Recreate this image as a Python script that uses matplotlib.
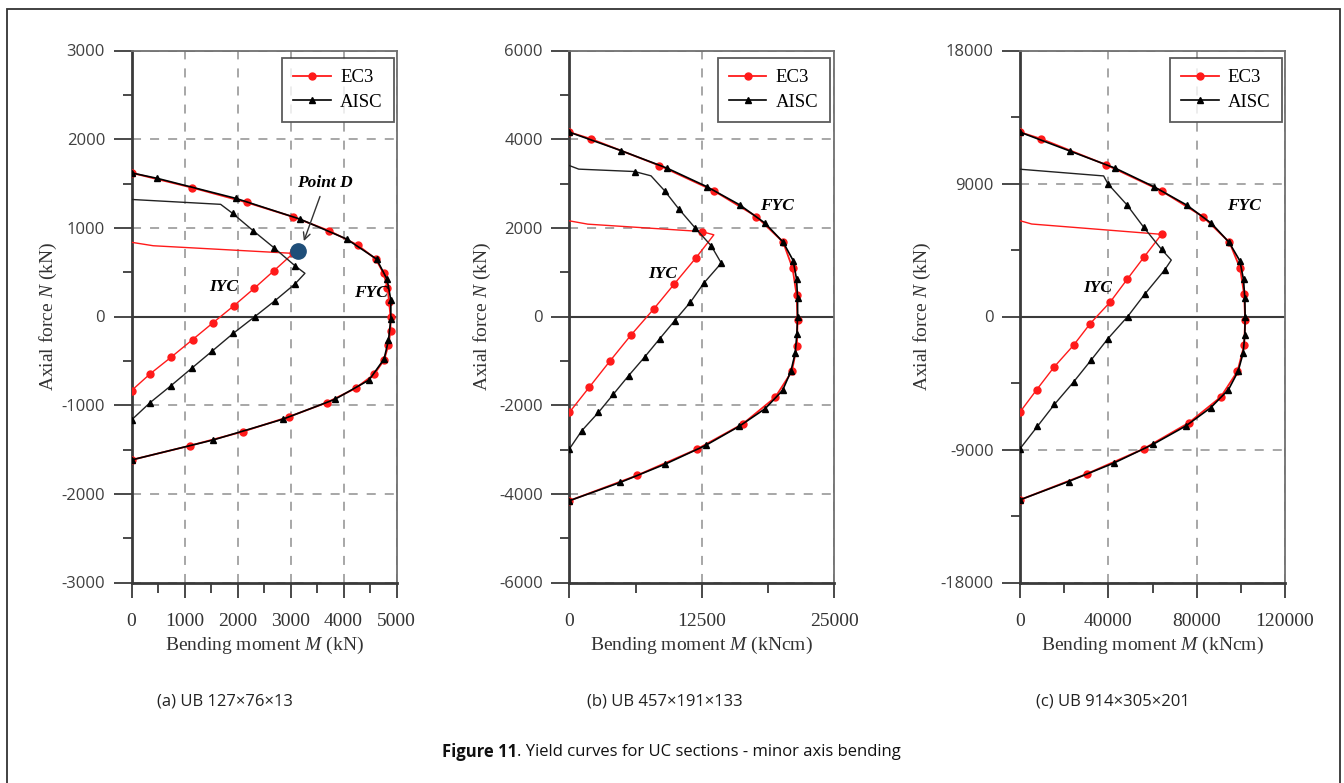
import matplotlib
matplotlib.use("Agg")
import matplotlib.pyplot as plt
from matplotlib.patches import Rectangle
from matplotlib.ticker import MultipleLocator

plt.rcParams['axes.unicode_minus'] = False
plt.rcParams['mathtext.fontset'] = 'custom'
plt.rcParams['mathtext.rm'] = 'Liberation Serif'
plt.rcParams['mathtext.it'] = 'Liberation Serif:italic'

# ---------------- Panel (a) UB 127x76x13 ----------------
a_ec3_fyc_M = [0, 1150, 2170, 3040, 3730, 4265, 4610, 4755, 4830, 4861, 4887, 4887, 4849, 4766, 4578, 4227, 3680, 2975, 2097, 1103, 0]
a_ec3_fyc_N = [1620, 1452, 1287, 1125, 967, 806, 648, 487, 325, 160, 0, -160, -321, -490, -652, -810, -972, -1130, -1299, -1457, -1618]
a_aisc_fyc_M = [0, 486, 1970, 3177, 4058, 4623, 4823, 4893, 4893, 4849, 4766, 4483, 3837, 2851, 1543, 0]
a_aisc_fyc_N = [1620, 1558, 1332, 1099, 874, 648, 419, 186, -30, -265, -479, -716, -934, -1159, -1392, -1618]
a_ec3_iyc_M = [0, 410, 3050, 2687, 2316, 1933, 1543, 1154, 745, 349, 0]
a_ec3_iyc_N = [837, 798, 712, 516, 318, 122, -68, -260, -460, -648, -836]
a_ec3_iyc_marks = [2, 3, 4, 5, 6, 7, 8, 9, 10]
a_aisc_iyc_M = [0, 1682, 1908, 2297, 2687, 3083, 3272, 3083, 2706, 2329, 1920, 1524, 1135, 745, 349, 0]
a_aisc_iyc_N = [1320, 1265, 1163, 967, 776, 573, 487, 366, 178, 0, -190, -389, -584, -780, -972, -1167]
a_aisc_iyc_marks = [2, 3, 4, 5, 7, 8, 9, 10, 11, 12, 13, 14, 15]
pointD_M, pointD_N = 3145, 742

# ---------------- Panel (b) UB 457x191x133 ----------------
b_ec3_fyc_M = [0, 2026, 8495, 13637, 17652, 20171, 21060, 21440, 21535, 21470, 20995, 19414, 16383, 12065, 6383, 0]
b_ec3_fyc_N = [4158, 4007, 3405, 2835, 2255, 1678, 1091, 489, -90, -676, -1240, -1827, -2420, -2990, -3585, -4156]
b_aisc_fyc_M = [0, 4868, 9224, 12946, 16070, 18466, 20171, 21118, 21440, 21535, 21535, 21470, 21310, 20900, 20114, 18466, 16003, 12850, 9063, 4801, 0]
b_aisc_fyc_N = [4158, 3743, 3346, 2932, 2519, 2105, 1678, 1263, 843, 415, 0, -397, -826, -1240, -1669, -2081, -2480, -2909, -3328, -3743, -4156]
b_ec3_iyc_M = [0, 1742, 12472, 13637, 11970, 9915, 7955, 5815, 3854, 1894, 0]
b_ec3_iyc_N = [2158, 2083, 1917, 1842, 1330, 737, 167, -420, -999, -1592, -2165]
b_ec3_iyc_marks = [2, 4, 5, 6, 7, 8, 9, 10]
b_aisc_iyc_M = [0, 890, 6155, 7708, 8996, 10322, 11837, 13390, 14337, 12690, 11430, 9943, 8523, 7103, 5587, 4167, 2746, 1174, 0]
b_aisc_iyc_N = [3405, 3324, 3270, 3173, 2835, 2429, 2007, 1594, 1204, 753, 325, -94, -503, -916, -1337, -1750, -2165, -2577, -2990]
b_aisc_iyc_marks = [2, 4, 5, 6, 7, 8, 9, 10, 11, 12, 13, 14, 15, 16, 17, 18]

# ---------------- Panel (c) UB 914x305x201 ----------------
c_ec3_fyc_M = [0, 9545, 39090, 64090, 82860, 94860, 99680, 101500, 101950, 101500, 98480, 90900, 76500, 56040, 30300, 0]
c_ec3_fyc_N = [12475, 12021, 10258, 8496, 6753, 5017, 3254, 1490, -230, -1946, -3709, -5450, -7190, -8950, -10645, -12407]
c_aisc_fyc_M = [0, 22420, 43180, 60590, 75450, 86670, 94690, 99550, 101210, 101800, 101950, 101800, 101050, 98770, 94400, 86360, 75000, 60130, 42730, 21970, 0]
c_aisc_fyc_N = [12475, 11207, 10034, 8787, 7546, 6305, 5017, 3770, 2508, 1240, 0, -1220, -2468, -3709, -4950, -6170, -7417, -8658, -9900, -11167, -12407]
c_ec3_iyc_M = [0, 5300, 64090, 56040, 48480, 40900, 31820, 24240, 15450, 7570, 0]
c_ec3_iyc_N = [6482, 6258, 5560, 4000, 2508, 990, -475, -1946, -3417, -4950, -6468]
c_ec3_iyc_marks = [2, 3, 4, 5, 6, 7, 8, 9, 10]
c_aisc_iyc_M = [0, 37880, 39850, 48480, 56040, 64090, 68500, 65450, 56500, 48770, 39850, 32130, 24240, 15600, 7870, 0]
c_aisc_iyc_N = [9966, 9512, 8970, 7546, 6034, 4542, 3817, 3139, 1512, 0, -1492, -2963, -4434, -5946, -7438, -8950]
c_aisc_iyc_marks = [2, 3, 4, 5, 7, 8, 9, 10, 11, 12, 13, 14, 15]

captions = ["(a) UB 127\u00d776\u00d713", "(b) UB 457\u00d7191\u00d7133", "(c) UB 914\u00d7305\u00d7201"]
x_units = ["kN", "kNcm", "kNcm"]
x_limits = [5000, 25000, 120000]
y_limits = [3000, 6000, 18000]
x_major = [1000, 12500, 40000]
y_major = [1000, 2000, 9000]
legend_labels = ["EC3", "AISC"]

RED = '#ff1a1a'
DARK = '#3a3a3a'
SERIF = 'Liberation Serif'
SANS = 'Open Sans'

fig = plt.figure(figsize=(13.44, 7.83), dpi=100)

# outer frame
fig.patches.append(Rectangle((7 / 1344, -0.05), (1340 - 7) / 1344, 1 - 9 / 783 + 0.05,
                             transform=fig.transFigure, fill=False, edgecolor='#333333', lw=1.3))

panel_lefts = [131.5, 569.3, 1020.0]
panel_w = 265.0
top_px, bot_px = 50.5, 582.5

panels = [
    (a_ec3_fyc_M, a_ec3_fyc_N, a_aisc_fyc_M, a_aisc_fyc_N, a_ec3_iyc_M, a_ec3_iyc_N, a_ec3_iyc_marks,
     a_aisc_iyc_M, a_aisc_iyc_N, a_aisc_iyc_marks),
    (b_ec3_fyc_M, b_ec3_fyc_N, b_aisc_fyc_M, b_aisc_fyc_N, b_ec3_iyc_M, b_ec3_iyc_N, b_ec3_iyc_marks,
     b_aisc_iyc_M, b_aisc_iyc_N, b_aisc_iyc_marks),
    (c_ec3_fyc_M, c_ec3_fyc_N, c_aisc_fyc_M, c_aisc_fyc_N, c_ec3_iyc_M, c_ec3_iyc_N, c_ec3_iyc_marks,
     c_aisc_iyc_M, c_aisc_iyc_N, c_aisc_iyc_marks),
]

iyc_pos = [(1744, 332), (8778, 963), (35000, 1919)]
fyc_pos = [(4515, 265), (19575, 2496), (101350, 7478)]
ylabel_x = [-0.315, -0.327, -0.367]
legend_right = [0.99, 0.982, 0.988]
caption_x = [225, 665, 1113]

for i, p in enumerate(panels):
    (ef_M, ef_N, af_M, af_N, ei_M, ei_N, ei_mk, ai_M, ai_N, ai_mk) = p
    ax = fig.add_axes([panel_lefts[i] / 1344, 1 - bot_px / 783, panel_w / 1344, (bot_px - top_px) / 783])
    xmax, ymax = x_limits[i], y_limits[i]
    ax.set_xlim(0, xmax)
    ax.set_ylim(-ymax, ymax)

    ax.xaxis.set_major_locator(MultipleLocator(x_major[i]))
    ax.xaxis.set_minor_locator(MultipleLocator(x_major[i] / 2))
    ax.yaxis.set_major_locator(MultipleLocator(y_major[i]))
    ax.yaxis.set_minor_locator(MultipleLocator(y_major[i] / 2))

    ax.grid(True, which='major', color='#a0a0a0', lw=1.3, dashes=(5, 5))
    ax.set_axisbelow(True)
    ax.axhline(0, color=DARK, lw=1.5, zorder=1.5)

    for s in ['left', 'bottom']:
        ax.spines[s].set_linewidth(2.0)
        ax.spines[s].set_color(DARK)
    for s in ['top', 'right']:
        ax.spines[s].set_linewidth(1.3)
        ax.spines[s].set_color('#707070')

    ax.tick_params(axis='y', which='major', direction='out', length=13, width=1.3, color=DARK, pad=6,
                   labelsize=12, labelcolor='#404040')
    ax.tick_params(axis='y', which='minor', direction='out', length=6.5, width=1.3, color=DARK)
    ax.tick_params(axis='x', which='major', direction='out', length=11, width=1.3, color=DARK, pad=11,
                   labelsize=14, labelcolor='#333333')
    ax.tick_params(axis='x', which='minor', direction='out', length=7, width=1.3, color=DARK)
    for lab in ax.get_yticklabels():
        lab.set_fontfamily(SANS)
    for lab in ax.get_xticklabels():
        lab.set_fontfamily(SERIF)

    ax.set_xlabel(r'Bending moment $\mathit{M}$ (' + x_units[i] + ')', fontsize=14, family=SERIF, color='#333333')
    ax.set_ylabel(r'Axial force $\mathit{N}$ (kN)', fontsize=14, family=SERIF, color='#333333')
    ax.xaxis.set_label_coords(0.5, -0.119)
    ax.xaxis.label.set_verticalalignment('center')
    ax.yaxis.set_label_coords(ylabel_x[i], 0.5)
    ax.yaxis.label.set_verticalalignment('center')

    # full yield curves
    ax.plot(ef_M, ef_N, color=RED, lw=1.3, marker='o', ms=5, mec=RED, mfc=RED, zorder=3, label=legend_labels[0])
    ax.plot(af_M, af_N, color='black', lw=1.2, marker='^', ms=4.5, zorder=4, label=legend_labels[1])
    # initial yield curves
    ax.plot(ei_M, ei_N, color=RED, lw=1.0, marker='o', ms=5, markevery=ei_mk, zorder=3)
    ax.plot(ai_M, ai_N, color='#222222', lw=1.0, marker='^', ms=4.5, mfc='black', mec='black',
            markevery=ai_mk, zorder=3)

    ax.text(iyc_pos[i][0], iyc_pos[i][1], 'IYC', family=SERIF, fontsize=12.5, fontweight='bold',
            fontstyle='italic', ha='center', va='center', zorder=6)
    ax.text(fyc_pos[i][0], fyc_pos[i][1], 'FYC', family=SERIF, fontsize=12.5, fontweight='bold',
            fontstyle='italic', ha='center', va='center', zorder=6)

    if i == 0:
        ax.plot([pointD_M], [pointD_N], 'o', ms=11, color='#1f4e79', zorder=7)
        ax.annotate('Point D', xy=(3252, 851), xytext=(3648, 1505), family=SERIF, fontsize=12.5,
                    fontweight='bold', fontstyle='italic', ha='center', va='center', zorder=7,
                    arrowprops=dict(arrowstyle='->', color='#333333', lw=1.0, shrinkA=2, shrinkB=0))

    leg = ax.legend(loc='upper right', bbox_to_anchor=(legend_right[i], 0.986), borderaxespad=0,
                    prop={'family': SERIF, 'size': 13.5}, frameon=True, fancybox=False,
                    handlelength=2.0, handletextpad=0.5, labelspacing=0.4, borderpad=0.6)
    leg.get_frame().set_edgecolor('#333333')
    leg.get_frame().set_linewidth(1.3)
    leg.set_zorder(10)

    fig.text(caption_x[i] / 1344, 1 - 701 / 783, captions[i], family=SANS, fontsize=12,
             ha='center', va='center', color='#222222')

t1 = fig.text(0, 1 - 752 / 783, 'Figure 11', family=SANS, fontsize=12, fontweight='bold',
              ha='left', va='center', color='#111111')
t2 = fig.text(0, 1 - 752 / 783, '. Yield curves for UC sections - minor axis bending', family=SANS,
              fontsize=12, ha='left', va='center', color='#111111')
fig.canvas.draw()
r = fig.canvas.get_renderer()
w1 = t1.get_window_extent(r).width
w2 = t2.get_window_extent(r).width
x0 = 671 - (w1 + w2) / 2
t1.set_x(x0 / 1344)
t2.set_x((x0 + w1) / 1344)

fig.savefig('out.png', dpi=100)
